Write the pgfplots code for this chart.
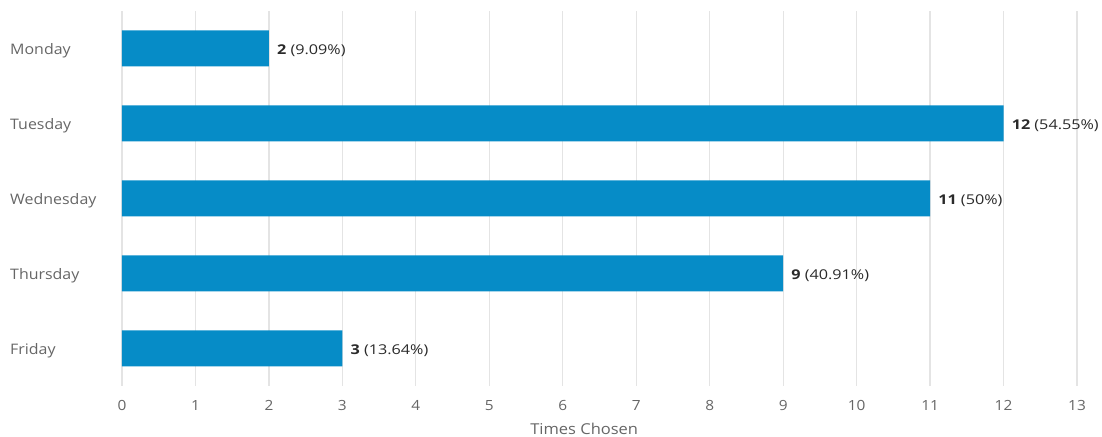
\documentclass[border=0pt]{standalone}
\usepackage{fontspec}
\setmainfont{Open Sans}
\newfontfamily\labfont[FakeStretch=1.1]{Open Sans}
\newfontfamily\valfont[FakeStretch=1.2]{Open Sans}
\usepackage{pgfplots}
\pgfplotsset{compat=1.18}
\definecolor{barblue}{HTML}{068CC7}
\definecolor{gridgray}{HTML}{E4E4E4}
\definecolor{labgray}{HTML}{666666}
\definecolor{valdark}{HTML}{2A2A2A}
\begin{document}
\begin{tikzpicture}[x=1pt,y=1pt]
\begin{axis}[
  at={(0pt,0pt)}, anchor=south west,
  scale only axis,
  width=955pt, height=375pt,
  xbar,
  bar width=36pt,
  xmin=0, xmax=13,
  ymin=-0.5, ymax=4.5,
  xtick={0,1,...,13},
  ytick={0,1,2,3,4},
  yticklabels={Friday,Thursday,Wednesday,Tuesday,Monday},
  xmajorgrids,
  grid style={gridgray, line width=1.3pt},
  axis line style={draw=none},
  major tick length=0pt,
  tick style={draw=none},
  /pgf/number format/assume math mode=true,
  xticklabel style={font=\labfont\fontsize{14}{16}\selectfont, text=labgray, anchor=base, inner sep=0pt, yshift=-24pt},
  yticklabel style={font=\labfont\fontsize{14.5}{16}\selectfont, text=labgray, anchor=west, inner sep=0pt, xshift=-112pt, yshift=-2pt},
  xlabel={Times Chosen},
  xlabel style={font=\labfont\fontsize{15}{17}\selectfont, text=labgray, at={(rel axis cs:0.484,0)}, anchor=base, inner sep=0pt, yshift=-48pt},
  point meta=explicit symbolic,
  nodes near coords,
  nodes near coords style={font=\valfont\fontsize{13.5}{15}\selectfont, text=valdark, anchor=west, inner sep=0pt, xshift=8pt, yshift=-2pt},
]
\addplot[fill=barblue, draw=none] coordinates {
  (2,4) [\textbf{2} (9.09\%)]
  (12,3) [\textbf{12} (54.55\%)]
  (11,2) [\textbf{11} (50\%)]
  (9,1) [\textbf{9} (40.91\%)]
  (3,0) [\textbf{3} (13.64\%)]
};
\end{axis}
\pgfresetboundingbox
\path (-122pt,-50pt) rectangle (980pt,386pt);
\end{tikzpicture}
\end{document}
